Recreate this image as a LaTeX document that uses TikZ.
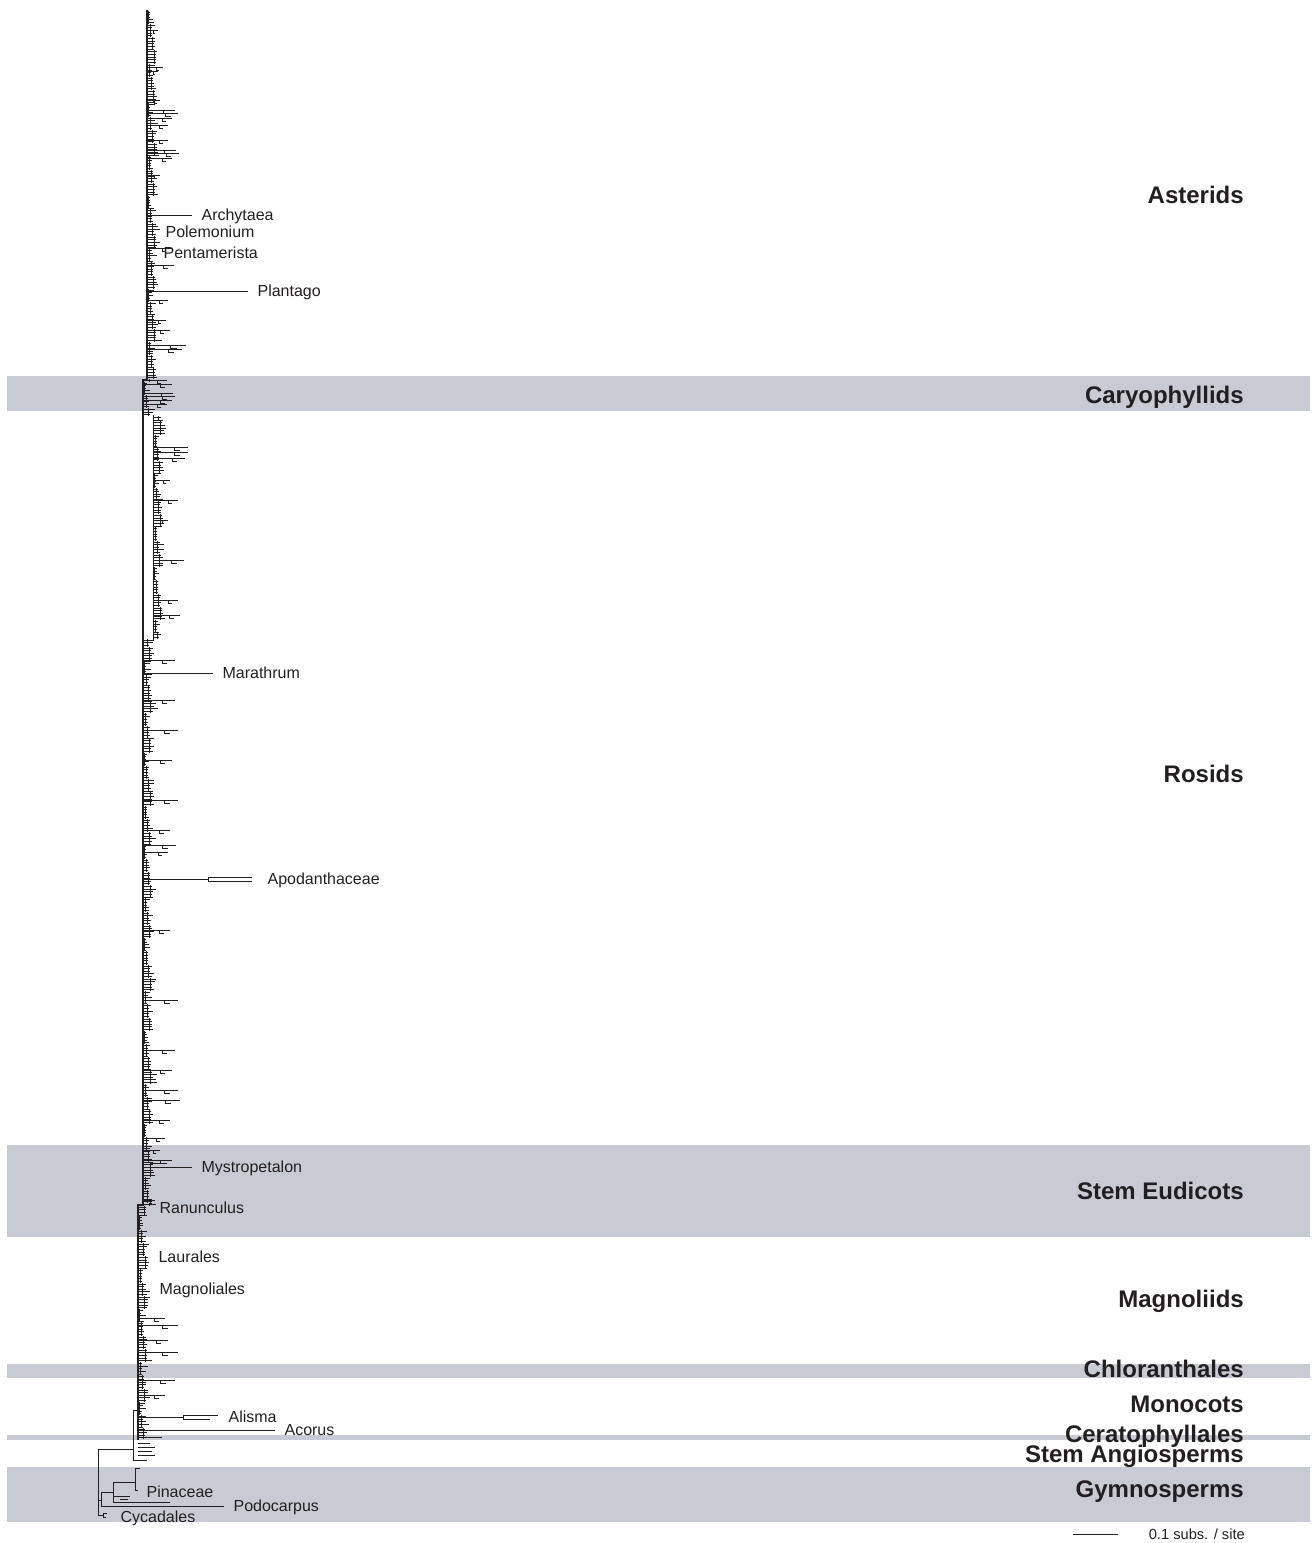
\documentclass[tikz,border=0pt]{standalone}
\usepackage{fontspec}
\setmainfont{Liberation Sans}
\usepackage{xcolor}
\usetikzlibrary{positioning}
\definecolor{bandgray}{RGB}{200,203,211}
\definecolor{inkgray}{RGB}{35,31,32}

\begin{document}
\begin{tikzpicture}[x=0.75pt, y=-0.75pt]
    \tikzstyle{band} = [fill=bandgray, draw=none]
    \tikzstyle{branch} = [draw=inkgray, line width=0.7pt]
    \tikzstyle{spine} = [draw=inkgray, line width=1.4pt]
    \tikzstyle{tiplab} = [font=\fontsize{12}{14}\selectfont, text=inkgray, text height=8.6pt, text depth=0pt, inner ysep=0pt, inner xsep=7pt, anchor=west]
    \tikzstyle{cladelab} = [font=\bfseries\fontsize{18}{20}\selectfont, text=inkgray, inner sep=0pt, anchor=base east]
    \useasboundingbox (0,0) rectangle (1313,1543);

    % shaded clades
    \fill[band] (7,376) rectangle (1310,411);
    \fill[band] (7,1145) rectangle (1310,1237);
    \fill[band] (7,1364) rectangle (1310,1378);
    \fill[band] (7,1435) rectangle (1310,1440);
    \fill[band] (7,1467) rectangle (1310,1522);

    % backbone
    \draw[spine] (147,10) -- (147,380) -- (143,380) -- (143,1205) -- (138,1205) -- (138,1440);
    \draw[branch] (143,640) -- (153,640) -- (153,415);
    \draw[branch] (138,1410) -- (133,1410) -- (133,1460) -- (147,1460);
    \draw[branch] (98,1449) -- (133,1449);
    \draw[branch] (98,1449) -- (98,1515);

    % dense tips along the backbone
    \pgfmathsetseed{42}
    \foreach \i in {0,...,538} {
        \pgfmathsetmacro\yy{12+2.65*\i}
        \pgfmathsetmacro\sx{\yy<380 ? 147 : (\yy<415 ? 143 : (\yy<640 ? 153 : (\yy<1205 ? 143 : 138)))}
        \pgfmathsetmacro\off{1.5+mod(floor(\i/5)*37,7)}
        \pgfmathsetmacro\len{\off+1+7*rnd*rnd}
        \pgfmathsetmacro\ux{\sx+\off}
        \pgfmathsetmacro\ya{\yy-1.35}
        \draw[branch] (\sx,\yy) -- ++(\len,0) (\ux,\ya) -- ++(0,2.7);
    }

    % longer branches with small forks
    \foreach \yy/\e in {30/158, 67/163, 71/158, 100/160, 110/175, 113/178, 118/172, 125/168,
        140/168, 150/176, 153/179, 158/172, 175/160, 248/172, 265/174, 300/168, 320/166,
        330/170, 345/186, 349/182, 380/167, 384/172, 393/173, 396/175, 400/172, 404/167,
        447/188, 452/188, 458/185, 480/170, 500/178, 520/168, 560/184, 600/178, 615/180,
        660/175, 700/175, 730/178, 760/172, 800/178, 830/170, 845/176, 852/168, 930/170,
        1000/178, 1050/175, 1070/172, 1090/178, 1100/180, 1120/170, 1138/165, 1150/160,
        1160/172, 1200/155, 1318/165, 1325/178, 1340/168, 1352/178, 1380/175, 1395/165} {
        \pgfmathsetmacro\sx{\yy<380 ? 147 : (\yy<415 ? 143 : (\yy<640 ? 153 : (\yy<1205 ? 143 : 138)))}
        \pgfmathsetmacro\m{\sx+0.6*(\e-\sx)}
        \pgfmathsetmacro\f{\m+0.4*(\e-\m)}
        \pgfmathsetmacro\yb{\yy+3}
        \draw[branch] (\sx,\yy) -- (\e,\yy) (\m,\yy) -- (\m,\yb) -- (\f,\yb);
    }

    % labelled taxa
    \node[tiplab] (archytaea) at (192,215) {Archytaea};
    \draw[branch] (147,215) -- (archytaea.west);
    \node[tiplab] (polemonium) at (156,232) {Polemonium};
    \node[tiplab] (pentamerista) at (154,253) {Pentamerista};
    \node[tiplab] (plantago) at (248,291) {Plantago};
    \draw[branch] (147,291) -- (plantago.west);
    \node[tiplab] (marathrum) at (213,673) {Marathrum};
    \draw[branch] (143,673) -- (marathrum.west);
    \node[tiplab] (apodanthaceae) at (258,879) {Apodanthaceae};
    \draw[branch] (143,879) -- (208,879);
    \draw[branch] (208,877) -- (252,877) (208,881) -- (252,881) (208,877) -- (208,881);
    \node[tiplab] (mystropetalon) at (192,1167) {Mystropetalon};
    \draw[branch] (143,1167) -- (mystropetalon.west);
    \draw[branch] (150,1163) -- (150,1167) (150,1163) -- (167,1163);
    \node[tiplab] (ranunculus) at (150,1208) {Ranunculus};
    \node[tiplab] (laurales) at (149,1257) {Laurales};
    \node[tiplab] (magnoliales) at (150,1289) {Magnoliales};
    \node[tiplab] (alisma) at (219,1417) {Alisma};
    \draw[branch] (138,1417) -- (183,1417);
    \draw[branch] (183,1415) -- (218,1415) (183,1419) -- (210,1419) (183,1415) -- (183,1419);
    \node[tiplab] (acorus) at (275,1430) {Acorus};
    \draw[branch] (138,1430) -- (acorus.west);
    \draw[branch] (138,1437) -- (162,1437);
    \draw[branch] (138,1443) -- (150,1443) (138,1447) -- (155,1447) (138,1451) -- (152,1451) (138,1455) -- (155,1455);

    % gymnosperms
    \draw[branch] (98,1500) -- (101,1500) (101,1492) -- (101,1506);
    \draw[branch] (101,1492) -- (113,1492) (113,1482) -- (113,1503);
    \draw[branch] (113,1482) -- (135,1482) (135,1468) -- (135,1490);
    \draw[branch] (135,1468) -- (140,1468) (135,1490) -- (138,1490);
    \node[tiplab] (pinaceae) at (137,1492) {Pinaceae};
    \draw[branch] (113,1496) -- (130,1496) (120,1499) -- (128,1499);
    \draw[branch] (113,1502) -- (130,1502) (130,1502) -- (170,1502);
    \node[tiplab] (podocarpus) at (224,1506) {Podocarpus};
    \draw[branch] (101,1506) -- (podocarpus.west);
    \node[tiplab] (cycadales) at (111,1517) {Cycadales};
    \draw[branch] (98,1515) -- (103,1515) (103,1513) -- (103,1517) (103,1513) -- (107,1513) (103,1517) -- (106,1517);

    % clade names
    \node[cladelab] (asterids) at (1244,203) {Asterids};
    \node[cladelab] (caryophyllids) at (1244,403) {Caryophyllids};
    \node[cladelab] (rosids) at (1244,782) {Rosids};
    \node[cladelab] (stemeudicots) at (1244,1199) {Stem Eudicots};
    \node[cladelab] (magnoliids) at (1244,1307) {Magnoliids};
    \node[cladelab] (chloranthales) at (1244,1377) {Chloranthales};
    \node[cladelab] (monocots) at (1244,1412) {Monocots};
    \node[cladelab] (ceratophyllales) at (1244,1442) {Ceratophyllales};
    \node[cladelab] (stemangio) at (1244,1462) {Stem Angiosperms};
    \node[cladelab] (gymnosperms) at (1244,1497) {Gymnosperms};

    % scale bar
    \coordinate (sbleft) at (1073,1534);
    \coordinate (sbright) at (1118,1534);
    \draw[branch] (sbleft) -- (sbright);
    \node[font=\fontsize{11}{13}\selectfont, text=inkgray, inner sep=0pt, anchor=base east] (scalelab) at (1245,1539) {0.1 subs. / site};
\end{tikzpicture}
\end{document}
